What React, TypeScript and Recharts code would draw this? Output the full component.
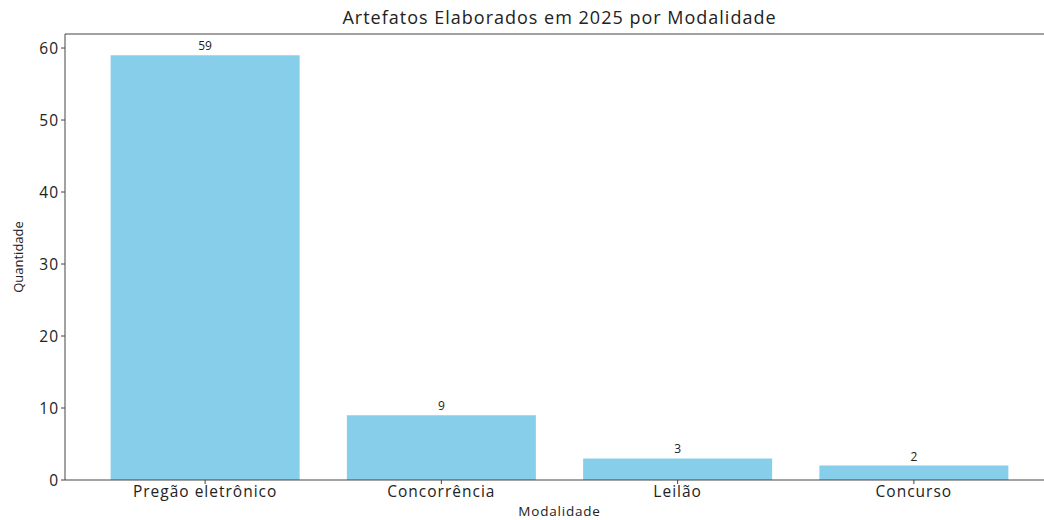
import { BarChart, Bar, XAxis, YAxis, LabelList, ReferenceLine } from "recharts";

const modalidades = ["Pregão eletrônico", "Concorrência", "Leilão", "Concurso"];
const quantidades = [59, 9, 3, 2];
const yTicks = [0, 10, 20, 30, 40, 50, 60];
const yMax = 61.95;

const data = modalidades.map((m, i) => ({ modalidade: m, quantidade: quantidades[i] }));

const font = "'Open Sans', sans-serif";

export default function App() {
  return (
    <div style={{ position: "absolute", left: 0, top: 0, width: 1044, height: 520, overflow: "hidden", background: "#fff", fontFamily: font }}>
      <div style={{ position: "absolute", top: 5, left: 65, width: 989, textAlign: "center", fontSize: 18, letterSpacing: 1, color: "#222" }}>
        Artefatos Elaborados em 2025 por Modalidade
      </div>
      <BarChart
        width={1070}
        height={520}
        data={data}
        margin={{ top: 34, right: 16, left: 0, bottom: 0 }}
        barCategoryGap="10%"
      >
        <XAxis
          dataKey="modalidade"
          height={40}
          padding={{ left: 22, right: 22 }}
          stroke="#444"
          tickSize={4}
          tick={{ fill: "#222", fontSize: 15.5, letterSpacing: 1, fontFamily: font }}
          label={{ value: "Modalidade", position: "insideBottom", offset: 4, fill: "#222", fontSize: 13.5, letterSpacing: 0.8, fontFamily: font }}
        />
        <YAxis
          width={65}
          domain={[0, yMax]}
          ticks={yTicks}
          stroke="#444"
          tickSize={4}
          tick={{ fill: "#222", fontSize: 15.5, letterSpacing: 1, fontFamily: font }}
          label={{ value: "Quantidade", angle: -90, position: "insideLeft", offset: 18, textAnchor: "middle", fill: "#222", fontSize: 13, fontFamily: font }}
        />
        <ReferenceLine y={yMax} stroke="#444" />
        <Bar dataKey="quantidade" fill="#87CEEB" isAnimationActive={false}>
          <LabelList dataKey="quantidade" position="top" offset={5} fill="#222" fontSize={12} fontFamily={font} />
        </Bar>
      </BarChart>
    </div>
  );
}
